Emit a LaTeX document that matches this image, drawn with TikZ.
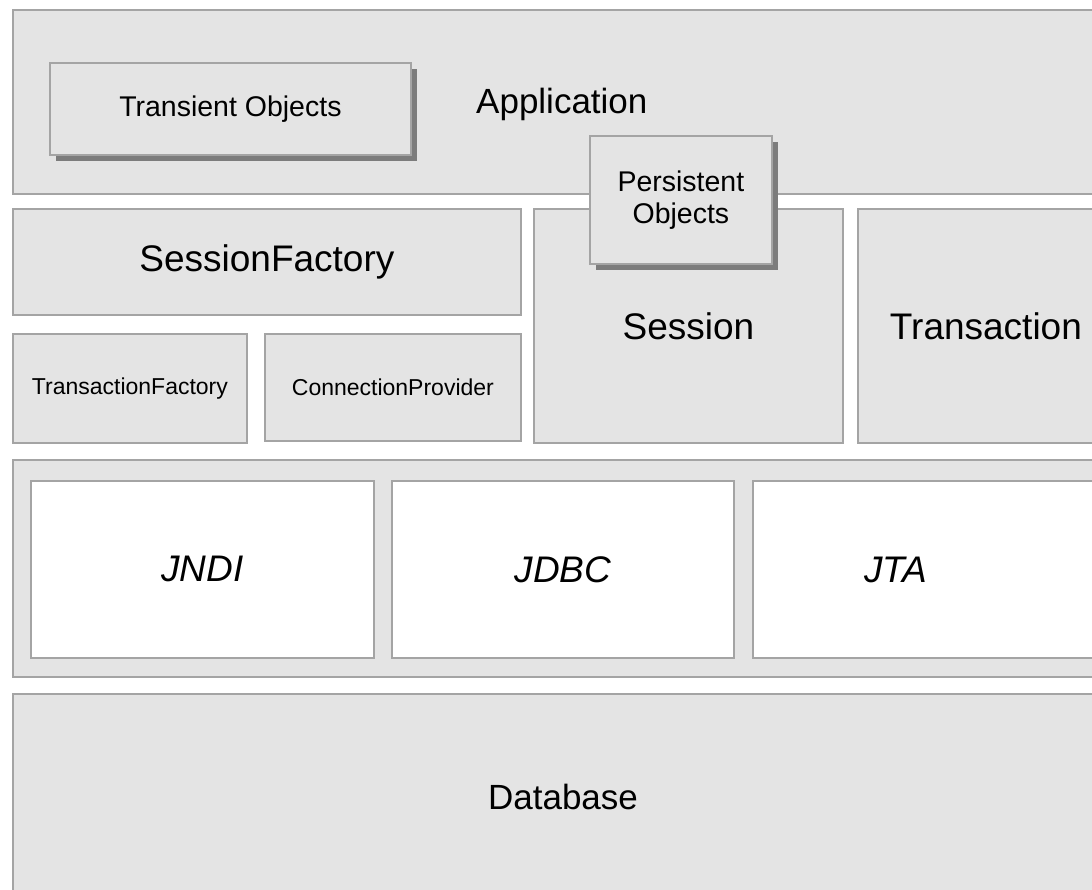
\documentclass[tikz,border=0pt]{standalone}
\usepackage{fontspec}
\setmainfont{Liberation Sans}
\usetikzlibrary{shadows}
\definecolor{boxfill}{HTML}{E4E4E4}
\definecolor{boxline}{HTML}{A4A4A4}
\definecolor{shadowdark}{HTML}{7C7C7C}
\definecolor{shadowlight}{HTML}{BDBDBD}
\tikzset{
  base box/.style={draw=boxline, fill=boxfill, line width=1.8pt, inner sep=0pt, anchor=north west},
  layer/.style={base box, drop shadow={shadow xshift=1.5pt, shadow yshift=-1.5pt, fill=shadowlight, opacity=1}},
  whitebox/.style={layer, fill=white},
  objbox/.style={base box, drop shadow={shadow xshift=6.5pt, shadow yshift=-6.5pt, fill=shadowdark, opacity=1}},
  big/.style={font=\fontsize{37}{40}\selectfont},
  mid/.style={font=\fontsize{35}{38}\selectfont},
  obj/.style={font=\fontsize{28.5}{32}\selectfont},
  small/.style={font=\fontsize{23}{26}\selectfont},
  api/.style={font=\fontsize{37}{40}\selectfont\itshape},
  lbl/.style={inner sep=0pt}
}
\begin{document}
\begin{tikzpicture}[x=1pt, y=-1pt]
  \useasboundingbox (0,0) rectangle (1092,889);
  \clip (0,0) rectangle (1092,889);
  \fill[white] (0,0) rectangle (1092,889);

  % Application layer
  \node[layer, minimum width=1100, minimum height=184] (app) at (12,9) {};
  \node[lbl, mid, anchor=base west] (applbl) at (476,113) {Application};
  \node[objbox, obj, minimum width=361, minimum height=92] (transient) at (49,62) {Transient Objects};

  % Hibernate layer
  \node[layer, big, minimum width=508, minimum height=106] (sf) at (12,208) {SessionFactory};
  \node[layer, small, minimum width=234, minimum height=109] (tf) at (12,333) {TransactionFactory};
  \node[layer, small, minimum width=256, minimum height=107] (cp) at (264,333) {ConnectionProvider};
  \node[layer, big, minimum width=309, minimum height=234] (session) at (533,208) {Session};
  \node[layer, big, minimum width=256, minimum height=234] (tx) at (857,208) {Transaction};

  \node[objbox, obj, align=center, minimum width=182, minimum height=128] (persistent) at (589,135) {Persistent\\[0.5pt]Objects};

  % API layer
  \node[layer, minimum width=1100, minimum height=217] (apis) at (12,459) {};
  \node[whitebox, api, minimum width=343, minimum height=177] (jndi) at (30,480) {JNDI};
  \node[whitebox, api, minimum width=342, minimum height=177] (jdbc) at (391,480) {JDBC};
  \node[whitebox, minimum width=343, minimum height=177] (jta) at (752,480) {};
  \node[lbl, api] (jtalbl) at (896,570) {JTA};

  % Database
  \node[layer, minimum width=1100, minimum height=230] (db) at (12,693) {};
  \node[lbl, mid] (dblbl) at (563,797) {Database};
\end{tikzpicture}
\end{document}
